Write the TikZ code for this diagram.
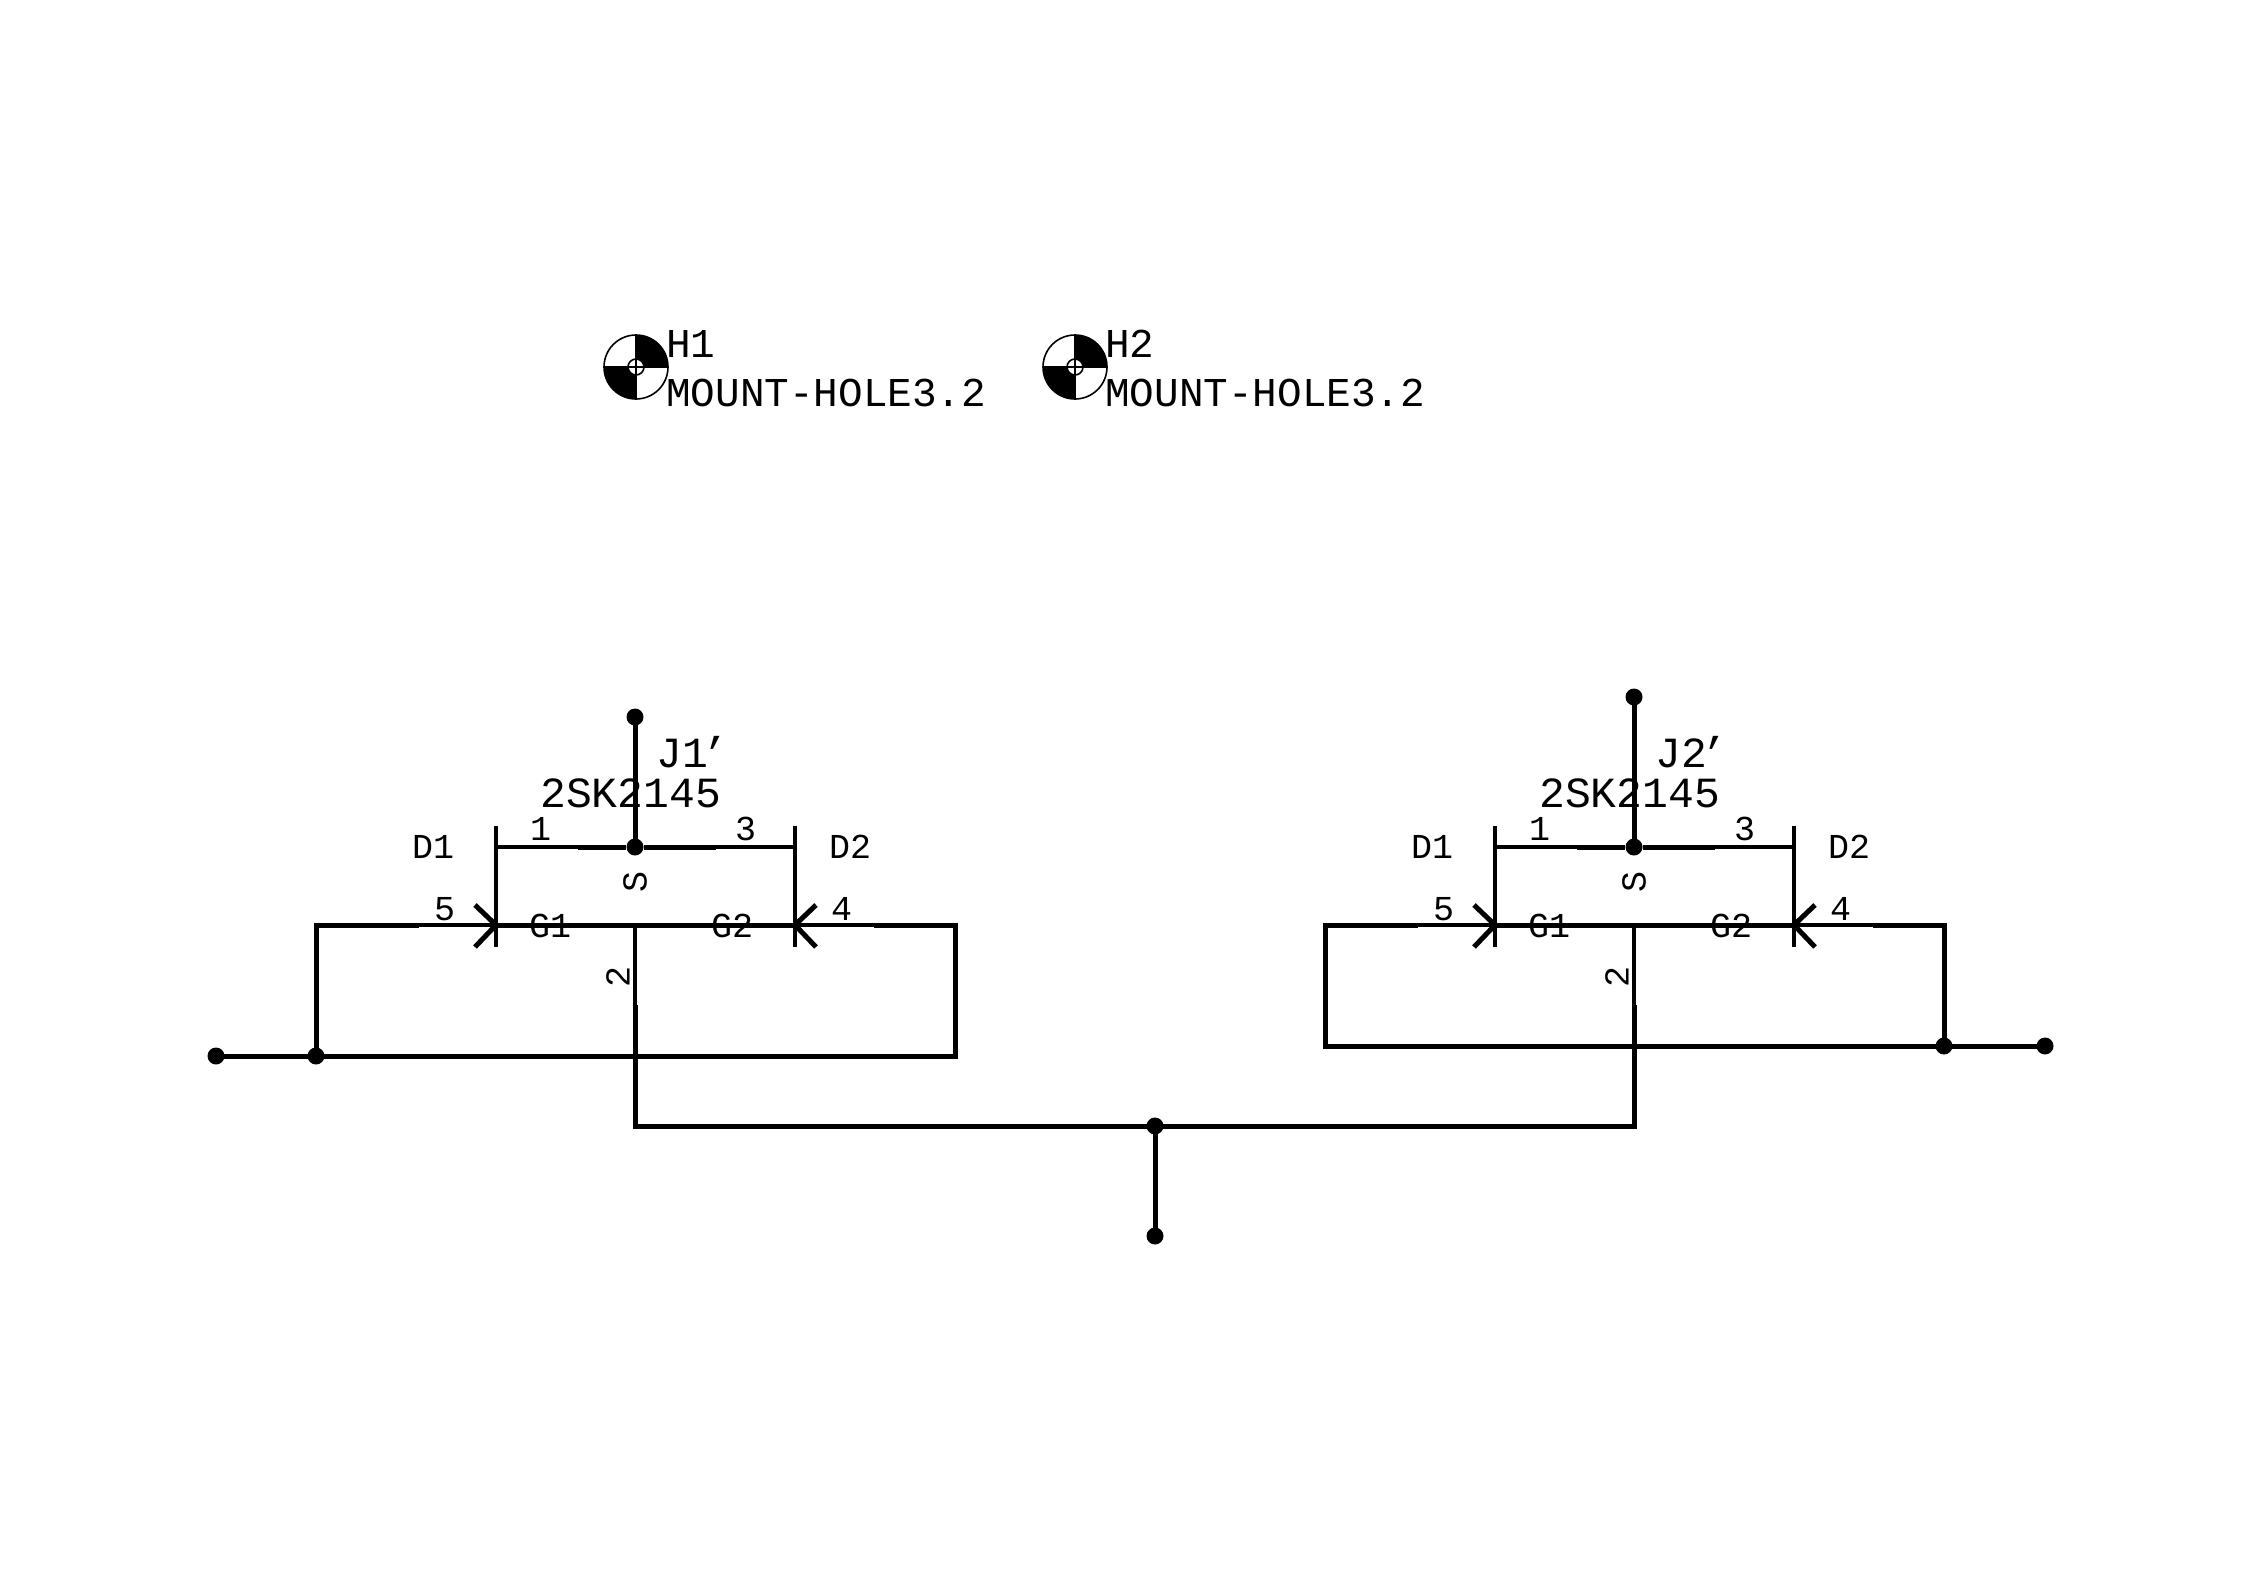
\documentclass[tikz,border=0pt]{standalone}
\usepackage{fontspec}
\newfontfamily\cadfont{Liberation Mono}
\tikzset{
  wire/.style={line width=5pt,line cap=rect,line join=miter},
  pin/.style={line width=3.2pt},
  bar/.style={line width=4.6pt},
  dot/.style={circle,fill=black,draw=none,inner sep=0pt,minimum size=17pt},
  big/.style={font=\cadfont\fontsize{41}{41}\selectfont,inner sep=0pt,anchor=base west},
  bigger/.style={font=\cadfont\fontsize{43}{43}\selectfont,inner sep=0pt,anchor=base west},
  small/.style={font=\cadfont\fontsize{35}{35}\selectfont,inner sep=0pt,anchor=base west},
  smallrot/.style={font=\cadfont\fontsize{35}{35}\selectfont,inner sep=0pt,rotate=90},
  holeline/.style={line width=1.6pt},
}
\newcommand{\hole}[2]{%
  \begin{scope}[shift={(#1,367)}]
    \fill (0,0) -- (0,-32) arc[start angle=90,end angle=0,x radius=32pt,y radius=32pt] -- cycle;
    \fill (0,0) -- (0,32) arc[start angle=-90,end angle=-180,x radius=32pt,y radius=32pt] -- cycle;
    \draw[holeline] (0,0) circle[radius=32pt];
    \draw[holeline,fill=white] (0,0) circle[radius=8pt];
    \draw[holeline] (-32,0) -- (32,0) (0,-32) -- (0,32);
  \end{scope}
}
\newcommand{\fet}[3]{%
  \begin{scope}[shift={(#2,0)},name prefix=#1-]
    \node[dot] (src) at (635,847) {};
    \coordinate (gc) at (635,925);
    \coordinate (lb1) at (496,826);
    \coordinate (lb2) at (496,947);
    \coordinate (rb1) at (795,826);
    \coordinate (rb2) at (795,947);
    \coordinate (ls) at (496,847);
    \coordinate (rs) at (795,847);
    \coordinate (lg) at (496,925);
    \coordinate (rg) at (795,925);
    \coordinate (ls2) at (578,847);
    \coordinate (rs2) at (716,847);
    \coordinate (lp) at (416,925);
    \coordinate (rp) at (876,925);
    \coordinate (cp) at (635,1007);
    \coordinate (la1) at (475,905);
    \coordinate (la2) at (475,947);
    \coordinate (ra1) at (816,905);
    \coordinate (ra2) at (816,947);
    \draw[bar] (lb1) -- (lb2);
    \draw[bar] (rb1) -- (rb2);
    \draw[pin] (ls) -- (ls2);
    \draw[pin] (rs) -- (rs2);
    \draw[wire,line cap=butt] (ls2) -- (src) -- (rs2);
    \draw[pin] (lp) -- (lg);
    \draw[pin] (rp) -- (rg);
    \draw[wire,line cap=butt] (lg) -- (rg);
    \draw[pin] (gc) -- (cp);
    \draw[wire,line cap=butt] (la1) -- (lg) -- (la2);
    \draw[wire,line cap=butt] (ra1) -- (rg) -- (ra2);
    \node[bigger] (ref) at (656,767) {#3\kern-5pt’};
    \node[bigger] (val) at (540,807) {2SK2145};
    \node[small] (n1) at (530,840) {1};
    \node[small] (n3) at (735,840) {3};
    \node[small] (d1) at (412,858) {D1};
    \node[small] (d2) at (829,858) {D2};
    \node[small] (n5) at (434,920) {5};
    \node[small] (n4) at (831,920) {4};
    \node[small] (g1) at (529,937) {G1};
    \node[small] (g2) at (711,937) {G2};
    \node[smallrot] (s) at (635,882) {S};
    \node[smallrot] (n2) at (618,977) {2};
  \end{scope}
}
\begin{document}
\begin{tikzpicture}[x=1pt,y=-1pt]
  \path[use as bounding box,fill=white] (0,0) rectangle (2258,1570);
  % mounting holes
  \hole{636}{H1}
  \hole{1075}{H2}
  \node[big] (h1) at (666,357) {H1};
  \node[big] (m1) at (666,406) {MOUNT-HOLE3.2};
  \node[big] (h2) at (1105,357) {H2};
  \node[big] (m2) at (1105,406) {MOUNT-HOLE3.2};
  % transistors
  \fet{a}{0}{J1}
  \fet{b}{999}{J2}
  % terminals
  \node[dot] (atop) at (635,717) {};
  \node[dot] (btop) at (1634,697) {};
  \node[dot] (lend) at (216,1056) {};
  \node[dot] (lj) at (316,1056) {};
  \node[dot] (rj) at (1944,1046) {};
  \node[dot] (rend) at (2045,1046) {};
  \node[dot] (bj) at (1155,1126) {};
  \node[dot] (bend) at (1155,1236) {};
  % corners
  \coordinate (c1) at (316,925);
  \coordinate (c2) at (955,925);
  \coordinate (c3) at (955,1056);
  \coordinate (c4) at (635,1126);
  \coordinate (c5) at (1634,1126);
  \coordinate (c6) at (1325,925);
  \coordinate (c7) at (1325,1046);
  \coordinate (c8) at (1944,925);
  % wires
  \draw[wire] (atop) -- (a-src);
  \draw[wire] (btop) -- (b-src);
  \draw[wire] (lj) -- (c1) -- (a-lp);
  \draw[wire] (a-rp) -- (c2) -- (c3) -- (lj) -- (lend);
  \draw[wire] (a-cp) -- (c4) -- (bj) -- (c5) -- (b-cp);
  \draw[wire] (bj) -- (bend);
  \draw[wire] (b-lp) -- (c6) -- (c7) -- (rj) -- (rend);
  \draw[wire] (b-rp) -- (c8) -- (rj);
\end{tikzpicture}
\end{document}
